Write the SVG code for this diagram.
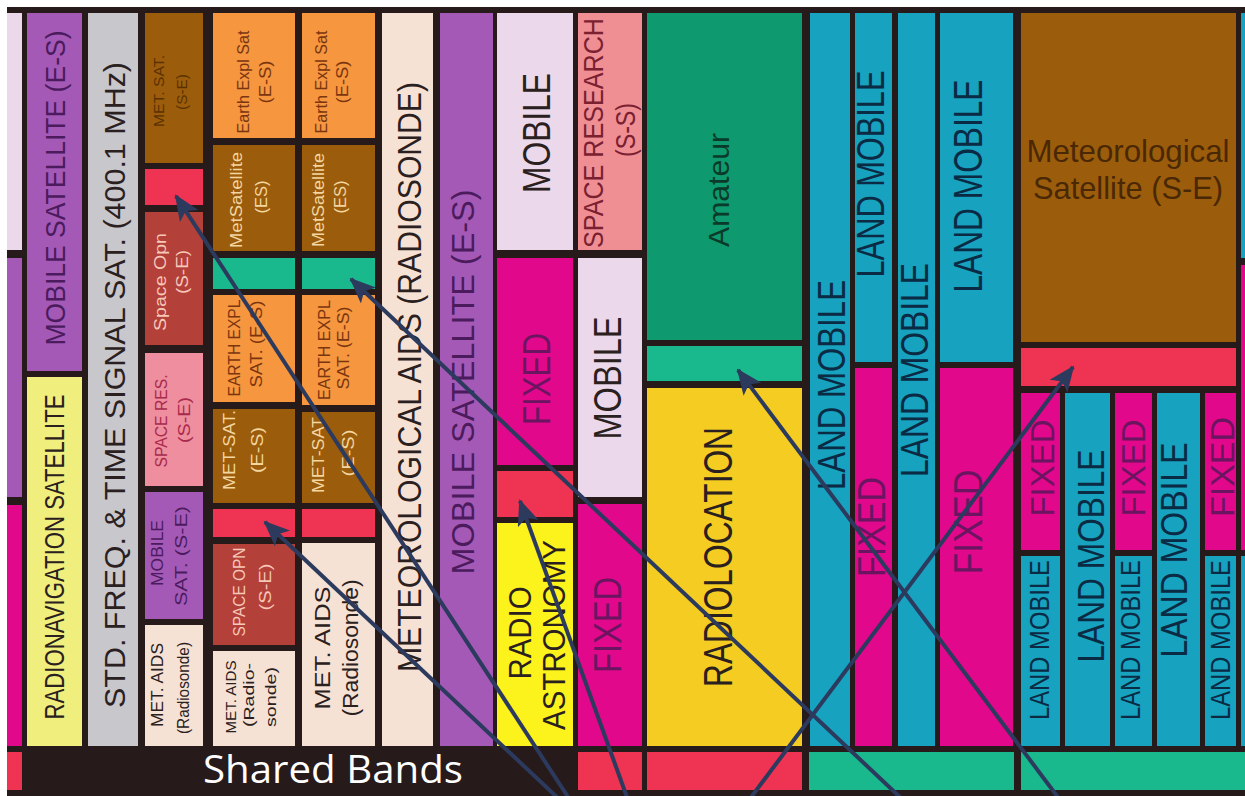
<svg xmlns="http://www.w3.org/2000/svg" width="1245" height="796" viewBox="0 0 1245 796">
<style>
text{font-family:"Liberation Sans",Arial,sans-serif;text-anchor:middle;dominant-baseline:central}
.lav{fill:#ebd8ea}.pur{fill:#a459b6}.mag{fill:#e2088c}.red{fill:#ef3352}.yel{fill:#f0ee7c}.gry{fill:#c8c7cc}.brn{fill:#9b5d0b}.org{fill:#f6963e}.drd{fill:#b4403a}.pnk{fill:#ee8e9e}.bge{fill:#f5e2d5}.grn{fill:#1ab98d}.ama{fill:#0e9a6e}.ylw{fill:#fbf31b}.rdl{fill:#f5cd22}.tea{fill:#17a2bf}.srp{fill:#ef8f94}
.td{fill:#2b2020}.tp{fill:#4b1b5e}.tb{fill:#5a3000}.tl{fill:#f6c8b8}.tr{fill:#a82a4c}.to{fill:#7a3510}.tc{fill:#f3d6a0}.tf{fill:#6b1560}.tg{fill:#0a3b2a}.tt{fill:#0b2b45}.ts{fill:#7a2030}
.conn line{stroke:#2c3a5e;stroke-width:4;marker-end:url(#ah)}
</style>
<defs>
<marker id="ah" viewBox="0 0 26 22" refX="24" refY="11" markerWidth="26" markerHeight="22" markerUnits="userSpaceOnUse" orient="auto">
<path d="M0,0 L26,11 L0,22 L6,11 z" fill="#2c3a5e"/>
</marker>
</defs>
<rect width="1245" height="796" fill="#ffffff"/>
<rect x="7" y="7" width="1238" height="789" fill="#261a1b"/>

<g id="colA">
<rect class="lav" x="7" y="13" width="15" height="237"/>
<rect class="pur" x="7" y="258" width="15" height="239"/>
<rect class="mag" x="7" y="505" width="15" height="241"/>
<rect class="red" x="7" y="752" width="15" height="38"/>
</g>

<g id="colB">
<rect class="pur" x="27" y="13" width="55" height="358"/>
<text class="tp" transform="translate(55,188) rotate(-90)" font-size="28" textLength="315" lengthAdjust="spacingAndGlyphs">MOBILE SATELLITE (E-S)</text>
<rect class="yel" x="27" y="377" width="55" height="369"/>
<text class="td" transform="translate(55,557) rotate(-90)" font-size="27" textLength="325" lengthAdjust="spacingAndGlyphs">RADIONAVIGATION SATELLITE</text>
</g>

<g id="colC">
<rect class="gry" x="88" y="13" width="50" height="733"/>
<text class="td" transform="translate(114,385) rotate(-90)" font-size="30" textLength="646" lengthAdjust="spacingAndGlyphs">STD. FREQ. &amp; TIME SIGNAL SAT. (400.1 MHz)</text>
</g>

<g id="colD">
<rect class="brn" x="145" y="13" width="58" height="150"/>
<text class="tb" transform="translate(158,91) rotate(-90)" font-size="15" textLength="72" lengthAdjust="spacingAndGlyphs">MET. SAT.</text>
<text class="tb" transform="translate(181,92) rotate(-90)" font-size="15" textLength="36" lengthAdjust="spacingAndGlyphs">(S-E)</text>
<rect class="red" x="145" y="169" width="58" height="36"/>
<rect class="drd" x="145" y="212" width="58" height="133"/>
<text class="tl" transform="translate(160,282) rotate(-90)" font-size="16" textLength="98" lengthAdjust="spacingAndGlyphs">Space Opn</text>
<text class="tl" transform="translate(182,272) rotate(-90)" font-size="16" textLength="44" lengthAdjust="spacingAndGlyphs">(S-E)</text>
<rect class="pnk" x="145" y="353" width="58" height="133"/>
<text class="tr" transform="translate(161,421) rotate(-90)" font-size="16" textLength="93" lengthAdjust="spacingAndGlyphs">SPACE RES.</text>
<text class="tr" transform="translate(184,420) rotate(-90)" font-size="16" textLength="46" lengthAdjust="spacingAndGlyphs">(S-E)</text>
<rect class="pur" x="145" y="492" width="58" height="127"/>
<text class="tp" transform="translate(157,553) rotate(-90)" font-size="16" textLength="66" lengthAdjust="spacingAndGlyphs">MOBILE</text>
<text class="tp" transform="translate(181,556) rotate(-90)" font-size="16" textLength="100" lengthAdjust="spacingAndGlyphs">SAT. (S-E)</text>
<rect class="bge" x="145" y="625" width="58" height="121"/>
<text class="td" transform="translate(157,685) rotate(-90)" font-size="17" textLength="84" lengthAdjust="spacingAndGlyphs">MET. AIDS</text>
<text class="td" transform="translate(183,688) rotate(-90)" font-size="17" textLength="92" lengthAdjust="spacingAndGlyphs">(Radiosonde)</text>
</g>

<g id="colE">
<rect class="org" x="213" y="13" width="82" height="125"/>
<text class="to" transform="translate(243,82) rotate(-90)" font-size="16" textLength="103" lengthAdjust="spacingAndGlyphs">Earth Expl Sat</text>
<text class="to" transform="translate(265,82) rotate(-90)" font-size="16" textLength="43" lengthAdjust="spacingAndGlyphs">(E-S)</text>
<rect class="brn" x="213" y="145" width="82" height="106"/>
<text class="tc" transform="translate(236,200) rotate(-90)" font-size="16" textLength="96" lengthAdjust="spacingAndGlyphs">MetSatellite</text>
<text class="tc" transform="translate(261,197) rotate(-90)" font-size="16" textLength="33" lengthAdjust="spacingAndGlyphs">(ES)</text>
<rect class="grn" x="213" y="258" width="82" height="31"/>
<rect class="org" x="213" y="295" width="82" height="107"/>
<text class="to" transform="translate(234,348) rotate(-90)" font-size="17" textLength="97" lengthAdjust="spacingAndGlyphs">EARTH EXPL</text>
<text class="to" transform="translate(256,344) rotate(-90)" font-size="17" textLength="87" lengthAdjust="spacingAndGlyphs">SAT. (E-S)</text>
<rect class="brn" x="213" y="409" width="82" height="94"/>
<text class="tc" transform="translate(229,450) rotate(-90)" font-size="17" textLength="80" lengthAdjust="spacingAndGlyphs">MET-SAT.</text>
<text class="tc" transform="translate(257,450) rotate(-90)" font-size="17" textLength="46" lengthAdjust="spacingAndGlyphs">(E-S)</text>
<rect class="red" x="213" y="509" width="82" height="28"/>
<rect class="drd" x="213" y="544" width="82" height="101"/>
<text class="tl" transform="translate(239,592) rotate(-90)" font-size="16" textLength="89" lengthAdjust="spacingAndGlyphs">SPACE OPN</text>
<text class="tl" transform="translate(265,587) rotate(-90)" font-size="16" textLength="47" lengthAdjust="spacingAndGlyphs">(S-E)</text>
<rect class="bge" x="213" y="651" width="82" height="95"/>
<text class="td" transform="translate(230,697) rotate(-90)" font-size="15" textLength="73" lengthAdjust="spacingAndGlyphs">MET. AIDS</text>
<text class="td" transform="translate(248,695) rotate(-90)" font-size="15" textLength="64" lengthAdjust="spacingAndGlyphs">(Radio-</text>
<text class="td" transform="translate(270,697) rotate(-90)" font-size="15" textLength="60" lengthAdjust="spacingAndGlyphs">sonde)</text>
</g>

<g id="colF">
<rect class="org" x="302" y="13" width="73" height="125"/>
<text class="to" transform="translate(321,82) rotate(-90)" font-size="16" textLength="103" lengthAdjust="spacingAndGlyphs">Earth Expl Sat</text>
<text class="to" transform="translate(342,82) rotate(-90)" font-size="16" textLength="43" lengthAdjust="spacingAndGlyphs">(E-S)</text>
<rect class="brn" x="302" y="145" width="73" height="106"/>
<text class="tc" transform="translate(318,200) rotate(-90)" font-size="16" textLength="94" lengthAdjust="spacingAndGlyphs">MetSatellite</text>
<text class="tc" transform="translate(340,197) rotate(-90)" font-size="16" textLength="33" lengthAdjust="spacingAndGlyphs">(ES)</text>
<rect class="grn" x="302" y="258" width="73" height="31"/>
<rect class="org" x="302" y="295" width="73" height="110"/>
<text class="to" transform="translate(324,350) rotate(-90)" font-size="17" textLength="100" lengthAdjust="spacingAndGlyphs">EARTH EXPL</text>
<text class="to" transform="translate(343,348) rotate(-90)" font-size="17" textLength="83" lengthAdjust="spacingAndGlyphs">SAT. (E-S)</text>
<rect class="brn" x="302" y="412" width="73" height="91"/>
<text class="tc" transform="translate(318,455) rotate(-90)" font-size="17" textLength="76" lengthAdjust="spacingAndGlyphs">MET-SAT</text>
<text class="tc" transform="translate(348,453) rotate(-90)" font-size="17" textLength="47" lengthAdjust="spacingAndGlyphs">(E-S)</text>
<rect class="red" x="302" y="509" width="73" height="28"/>
<rect class="bge" x="302" y="543" width="73" height="203"/>
<text class="td" transform="translate(322,648) rotate(-90)" font-size="22" textLength="123" lengthAdjust="spacingAndGlyphs">MET. AIDS</text>
<text class="td" transform="translate(350,648) rotate(-90)" font-size="22" textLength="137" lengthAdjust="spacingAndGlyphs">(Radiosonde)</text>
</g>

<g id="colG">
<rect class="bge" x="382" y="13" width="51" height="733"/>
<text class="td" transform="translate(409,377) rotate(-90)" font-size="33" textLength="590" lengthAdjust="spacingAndGlyphs">METEOROLOGICAL AIDS (RADIOSONDE)</text>
</g>

<g id="colH">
<rect class="pur" x="440" y="13" width="53" height="733"/>
<text class="tp" transform="translate(463,382) rotate(-90)" font-size="31" textLength="385" lengthAdjust="spacingAndGlyphs">MOBILE SATELLITE (E-S)</text>
</g>

<g id="colI">
<rect class="lav" x="497" y="13" width="76" height="237"/>
<text class="td" transform="translate(537,133) rotate(-90)" font-size="38" textLength="120" lengthAdjust="spacingAndGlyphs">MOBILE</text>
<rect class="mag" x="497" y="258" width="76" height="207"/>
<text class="tf" transform="translate(537,379) rotate(-90)" font-size="38" textLength="92" lengthAdjust="spacingAndGlyphs">FIXED</text>
<rect class="red" x="497" y="471" width="76" height="46"/>
<rect class="ylw" x="497" y="523" width="76" height="223"/>
<text class="td" transform="translate(520,633) rotate(-90)" font-size="31" textLength="93" lengthAdjust="spacingAndGlyphs">RADIO</text>
<text class="td" transform="translate(554,635) rotate(-90)" font-size="31" textLength="190" lengthAdjust="spacingAndGlyphs">ASTRONOMY</text>
</g>

<g id="colJ">
<rect class="srp" x="578" y="13" width="64" height="237"/>
<text class="ts" transform="translate(594,133) rotate(-90)" font-size="27" textLength="230" lengthAdjust="spacingAndGlyphs">SPACE RESEARCH</text>
<text class="ts" transform="translate(626,130) rotate(-90)" font-size="27" textLength="54" lengthAdjust="spacingAndGlyphs">(S-S)</text>
<rect class="lav" x="578" y="258" width="64" height="239"/>
<text class="td" transform="translate(608,378) rotate(-90)" font-size="38" textLength="123" lengthAdjust="spacingAndGlyphs">MOBILE</text>
<rect class="mag" x="578" y="504" width="64" height="242"/>
<text class="tf" transform="translate(608,625) rotate(-90)" font-size="38" textLength="96" lengthAdjust="spacingAndGlyphs">FIXED</text>
</g>

<g id="colK">
<rect class="ama" x="647" y="13" width="155" height="327"/>
<text class="tg" transform="translate(718,190) rotate(-90)" font-size="30" textLength="114" lengthAdjust="spacingAndGlyphs">Amateur</text>
<rect class="grn" x="647" y="346" width="155" height="35"/>
<rect class="rdl" x="647" y="388" width="155" height="358"/>
<text class="td" transform="translate(718,557) rotate(-90)" font-size="40" textLength="260" lengthAdjust="spacingAndGlyphs">RADIOLOCATION</text>
</g>

<g id="colL">
<rect class="tea" x="810" y="13" width="40" height="733"/>
<text class="tt" transform="translate(832,385) rotate(-90)" font-size="38" textLength="210" lengthAdjust="spacingAndGlyphs">LAND MOBILE</text>
</g>

<g id="colM">
<rect class="tea" x="855" y="13" width="37" height="349"/>
<text class="tt" transform="translate(871,174) rotate(-90)" font-size="38" textLength="207" lengthAdjust="spacingAndGlyphs">LAND MOBILE</text>
<rect class="mag" x="855" y="368" width="37" height="378"/>
<text class="tf" transform="translate(872,527) rotate(-90)" font-size="38" textLength="100" lengthAdjust="spacingAndGlyphs">FIXED</text>
</g>

<g id="colN">
<rect class="tea" x="898" y="13" width="37" height="733"/>
<text class="tt" transform="translate(915,370) rotate(-90)" font-size="38" textLength="214" lengthAdjust="spacingAndGlyphs">LAND MOBILE</text>
</g>

<g id="colO">
<rect class="tea" x="940" y="13" width="73" height="349"/>
<text class="tt" transform="translate(968,186) rotate(-90)" font-size="40" textLength="213" lengthAdjust="spacingAndGlyphs">LAND MOBILE</text>
<rect class="mag" x="940" y="368" width="73" height="378"/>
<text class="tf" transform="translate(968,522) rotate(-90)" font-size="40" textLength="105" lengthAdjust="spacingAndGlyphs">FIXED</text>
</g>

<g id="colP">
<rect class="brn" x="1021" y="13" width="215" height="329"/>
<text x="1128" y="162" font-size="32" textLength="203" lengthAdjust="spacingAndGlyphs" style="dominant-baseline:auto;fill:#4a2806">Meteorological</text>
<text x="1128" y="199" font-size="32" textLength="190" lengthAdjust="spacingAndGlyphs" style="dominant-baseline:auto;fill:#4a2806">Satellite (S-E)</text>
<rect class="red" x="1021" y="348" width="215" height="38"/>
<rect class="mag" x="1021" y="393" width="39" height="157"/>
<text class="tf" transform="translate(1042,468) rotate(-90)" font-size="34" textLength="97" lengthAdjust="spacingAndGlyphs">FIXED</text>
<rect class="tea" x="1021" y="556" width="39" height="190"/>
<text class="tt" transform="translate(1039,640) rotate(-90)" font-size="28" textLength="160" lengthAdjust="spacingAndGlyphs">LAND MOBILE</text>
<rect class="tea" x="1065" y="393" width="45" height="353"/>
<text class="tt" transform="translate(1091,556) rotate(-90)" font-size="36" textLength="213" lengthAdjust="spacingAndGlyphs">LAND MOBILE</text>
<rect class="mag" x="1115" y="393" width="37" height="157"/>
<text class="tf" transform="translate(1133,468) rotate(-90)" font-size="34" textLength="97" lengthAdjust="spacingAndGlyphs">FIXED</text>
<rect class="tea" x="1115" y="556" width="37" height="190"/>
<text class="tt" transform="translate(1130,640) rotate(-90)" font-size="28" textLength="160" lengthAdjust="spacingAndGlyphs">LAND MOBILE</text>
<rect class="tea" x="1157" y="393" width="43" height="353"/>
<text class="tt" transform="translate(1174,550) rotate(-90)" font-size="36" textLength="215" lengthAdjust="spacingAndGlyphs">LAND MOBILE</text>
<rect class="mag" x="1205" y="393" width="31" height="157"/>
<text class="tf" transform="translate(1222,467) rotate(-90)" font-size="34" textLength="100" lengthAdjust="spacingAndGlyphs">FIXED</text>
<rect class="tea" x="1205" y="556" width="31" height="190"/>
<text class="tt" transform="translate(1220,640) rotate(-90)" font-size="28" textLength="160" lengthAdjust="spacingAndGlyphs">LAND MOBILE</text>
</g>

<g id="edge">
<rect class="tea" x="1241" y="13" width="4" height="245"/>
<rect class="mag" x="1241" y="265" width="4" height="285"/>
<rect class="tea" x="1241" y="556" width="4" height="190"/>
</g>

<g id="shared">
<rect class="red" x="578" y="752" width="64" height="38"/>
<rect class="red" x="647" y="752" width="155" height="38"/>
<rect class="grn" x="809" y="752" width="205" height="38"/>
<rect class="grn" x="1021" y="752" width="224" height="38"/>
<text x="203" y="783" font-size="38" textLength="260" lengthAdjust="spacingAndGlyphs" style="font-family:'Open Sans','Noto Sans',sans-serif;text-anchor:start;dominant-baseline:auto;fill:#ffffff">Shared Bands</text>
</g>

<g id="connectors" class="conn">
<line x1="570" y1="800" x2="176" y2="196"/>
<line x1="560" y1="800" x2="265" y2="522"/>
<line x1="628" y1="800" x2="520" y2="501"/>
<line x1="903" y1="800" x2="351" y2="279"/>
<line x1="1060" y1="800" x2="738" y2="370"/>
<line x1="749" y1="800" x2="1073" y2="367"/>
</g>
</svg>
